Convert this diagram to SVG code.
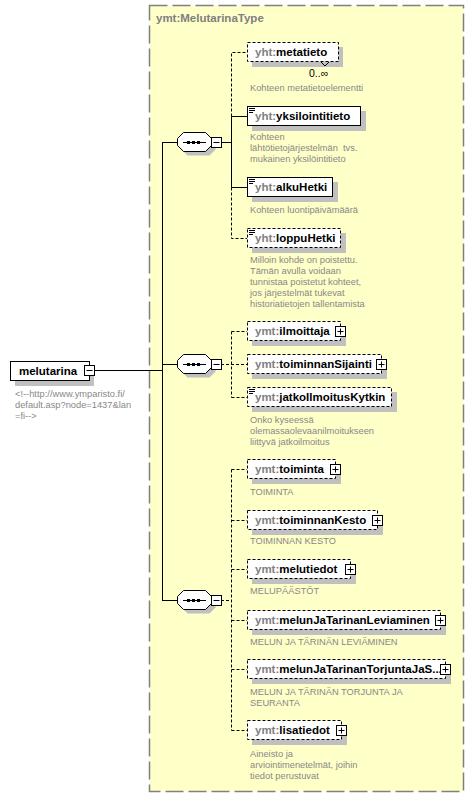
<svg xmlns="http://www.w3.org/2000/svg" width="474" height="797" viewBox="0 0 474 797">
<defs>
<style>
.bg{fill:#fff}
.type{fill:#ffffc8;stroke:#808080;stroke-width:1.5;stroke-dasharray:18 5}
.sh{fill:#c0c0c0}
.box{fill:#fff;stroke:#000;stroke-width:1}
.opt{stroke-dasharray:3 2}
.name{font-family:"Liberation Sans",Arial,sans-serif;font-weight:bold;font-size:11.5px;fill:#000}
.pfx{fill:#808080}
.title{font-family:"Liberation Sans",Arial,sans-serif;font-weight:bold;font-size:11.5px;fill:#808080}
.desc{font-family:"Liberation Sans",Arial,sans-serif;font-size:9.3px;fill:#888;white-space:pre}
.occ{font-family:"Liberation Sans",Arial,sans-serif;font-size:10.5px;fill:#000}
.ln{stroke:#000;stroke-width:1;fill:none}
.dl{stroke:#000;stroke-width:1;fill:none;stroke-dasharray:3 2}
.ic{stroke:#000;stroke-width:1;fill:none}
</style>
<g id="minus"><rect x="0.5" y="0.5" width="10" height="10" fill="#fff" stroke="#000"/><line x1="2.5" y1="5.5" x2="8.5" y2="5.5" stroke="#000"/></g>
<g id="plus"><rect x="0.5" y="0.5" width="10" height="10" fill="#fff" stroke="#000"/><line x1="2.5" y1="5.5" x2="8.5" y2="5.5" stroke="#000"/><line x1="5.5" y1="2.5" x2="5.5" y2="8.5" stroke="#000"/></g>
<g id="simple"><line x1="2" y1="2.5" x2="8" y2="2.5" stroke="#000"/><line x1="2" y1="4.5" x2="8" y2="4.5" stroke="#000"/><line x1="2" y1="6.5" x2="6" y2="6.5" stroke="#000"/></g>
<g id="seq">
<polygon points="10.5,4.5 4.5,10.5 4.5,17.5 10.5,23.5 32.5,23.5 38.5,17.5 38.5,10.5 32.5,4.5" class="sh"/>
<polygon points="6.5,0.5 0.5,6.5 0.5,13.5 6.5,19.5 28.5,19.5 34.5,13.5 34.5,6.5 28.5,0.5" class="box"/>
<line x1="6" y1="10.5" x2="29" y2="10.5" stroke="#000"/>
<rect x="10" y="9" width="3" height="3" fill="#000"/><rect x="15" y="9" width="3" height="3" fill="#000"/><rect x="20" y="9" width="3" height="3" fill="#000"/>
</g>
</defs>
<rect class="bg" x="0" y="0" width="474" height="797"/>
<g id="MelutarinaType">
<rect class="type" x="149.5" y="5.5" width="314" height="786"/>
<text class="title" x="156" y="22">ymt:MelutarinaType</text>
</g>
<g id="connectors">
<path class="ln" d="M95,370.5 H162.5 M162.5,142 V601 M162.5,142.5 H177 M162.5,364.5 H178 M162.5,600.5 H177"/>
<path class="ln" d="M222,142.5 H231.5 M231.5,116.5 V187.5 M231.5,116.5 H247 M231.5,187.5 H247"/>
<path class="dl" d="M231.5,116.5 V52.5 H247 M231.5,187.5 V238.5 H247"/>
<path class="dl" d="M221,364.5 H247 M231.5,331.5 V397.5 M231.5,331.5 H247 M231.5,397.5 H247"/>
<path class="dl" d="M221,600.5 H231.5 M231.5,469.5 V730.5 M231.5,469.5 H247 M231.5,520.5 H247 M231.5,569.5 H247 M231.5,620.5 H247 M231.5,669.5 H247 M231.5,730.5 H247"/>
</g>
<g id="melutarina">
<rect class="sh" x="15" y="366" width="79" height="20"/>
<rect class="box" x="10.5" y="361.5" width="79" height="19"/>
<text class="name" x="19" y="375">melutarina</text>
<use href="#minus" x="84" y="365"/>
<text class="desc" x="15" y="397">&lt;!--http://www.ymparisto.fi/</text>
<text class="desc" x="15" y="408">default.asp?node=1437&amp;lan</text>
<text class="desc" x="15" y="419">=fi--&gt;</text>
</g>
<g id="seq1">
<use href="#seq" x="177" y="132"/>
<use href="#minus" x="211" y="137"/>
</g>
<g id="seq2">
<use href="#seq" x="177" y="354"/>
<use href="#minus" x="211" y="359"/>
</g>
<g id="seq3">
<use href="#seq" x="177" y="590"/>
<use href="#minus" x="211" y="595"/>
</g>
<g id="metatieto">
<rect class="sh" x="252" y="47" width="91" height="20"/>
<rect class="box opt" x="247.5" y="42.5" width="91" height="19"/>
<polyline class="ic" points="321,62 325,66 329,62" fill="#fff"/>
<text class="name" x="255" y="56"><tspan class="pfx">yht:</tspan>metatieto</text>
<text class="occ" x="309" y="77">0..∞</text>
<text class="desc" x="250" y="91">Kohteen metatietoelementti</text>
</g>
<g id="yksilointitieto">
<rect class="sh" x="252" y="111" width="114" height="20"/>
<rect class="box" x="247.5" y="106.5" width="113" height="19"/>
<use href="#simple" x="247" y="106"/>
<text class="name" x="255" y="120"><tspan class="pfx">yht:</tspan>yksilointitieto</text>
<text class="desc" x="250" y="140">Kohteen</text>
<text class="desc" x="250" y="151">lähtötietojärjestelmän  tvs.</text>
<text class="desc" x="250" y="162">mukainen yksilöintitieto</text>
</g>
<g id="alkuHetki">
<rect class="sh" x="252" y="182" width="86" height="20"/>
<rect class="box" x="247.5" y="177.5" width="85" height="19"/>
<use href="#simple" x="247" y="177"/>
<text class="name" x="255" y="191"><tspan class="pfx">yht:</tspan>alkuHetki</text>
<text class="desc" x="250" y="213">Kohteen luontipäivämäärä</text>
</g>
<g id="loppuHetki">
<rect class="sh" x="252" y="233" width="94" height="20"/>
<rect class="box opt" x="247.5" y="228.5" width="93" height="19"/>
<use href="#simple" x="247" y="228"/>
<text class="name" x="255" y="242"><tspan class="pfx">yht:</tspan>loppuHetki</text>
<text class="desc" x="250" y="263">Milloin kohde on poistettu.</text>
<text class="desc" x="250" y="274">Tämän avulla voidaan</text>
<text class="desc" x="250" y="285">tunnistaa poistetut kohteet,</text>
<text class="desc" x="250" y="296">jos järjestelmät tukevat</text>
<text class="desc" x="250" y="307">historiatietojen tallentamista</text>
</g>
<g id="ilmoittaja">
<rect class="sh" x="252" y="326" width="94" height="20"/>
<rect class="box opt" x="247.5" y="321.5" width="93" height="19"/>
<text class="name" x="255" y="335"><tspan class="pfx">ymt:</tspan>ilmoittaja</text>
<use href="#plus" x="335" y="326"/>
</g>
<g id="toiminnanSijainti">
<rect class="sh" x="252" y="359" width="135" height="20"/>
<rect class="box opt" x="247.5" y="354.5" width="134" height="19"/>
<text class="name" x="255" y="368"><tspan class="pfx">ymt:</tspan>toiminnanSijainti</text>
<use href="#plus" x="376" y="359"/>
</g>
<g id="jatkoIlmoitusKytkin">
<rect class="sh" x="252" y="392" width="145" height="20"/>
<rect class="box opt" x="247.5" y="387.5" width="144" height="19"/>
<use href="#simple" x="247" y="387"/>
<text class="name" x="255" y="401"><tspan class="pfx">ymt:</tspan>jatkoIlmoitusKytkin</text>
<text class="desc" x="250" y="423">Onko kyseessä</text>
<text class="desc" x="250" y="434">olemassaolevaanilmoitukseen</text>
<text class="desc" x="250" y="445">liittyvä jatkoilmoitus</text>
</g>
<g id="toiminta">
<rect class="sh" x="252" y="464" width="89" height="20"/>
<rect class="box opt" x="247.5" y="459.5" width="88" height="19"/>
<text class="name" x="255" y="473"><tspan class="pfx">ymt:</tspan>toiminta</text>
<use href="#plus" x="330" y="464"/>
<text class="desc" x="250" y="495">TOIMINTA</text>
</g>
<g id="toiminnanKesto">
<rect class="sh" x="252" y="515" width="131" height="20"/>
<rect class="box opt" x="247.5" y="510.5" width="130" height="19"/>
<text class="name" x="255" y="524"><tspan class="pfx">ymt:</tspan>toiminnanKesto</text>
<use href="#plus" x="372" y="515"/>
<text class="desc" x="250" y="544">TOIMINNAN KESTO</text>
</g>
<g id="melutiedot">
<rect class="sh" x="252" y="564" width="104" height="20"/>
<rect class="box opt" x="247.5" y="559.5" width="103" height="19"/>
<text class="name" x="255" y="573"><tspan class="pfx">ymt:</tspan>melutiedot</text>
<use href="#plus" x="345" y="564"/>
<text class="desc" x="250" y="594">MELUPÄÄSTÖT</text>
</g>
<g id="melunJaTarinanLeviaminen">
<rect class="sh" x="252" y="615" width="194" height="20"/>
<rect class="box opt" x="247.5" y="610.5" width="193" height="19"/>
<text class="name" x="255" y="624"><tspan class="pfx">ymt:</tspan>melunJaTarinanLeviaminen</text>
<use href="#plus" x="435" y="615"/>
<text class="desc" x="250" y="645">MELUN JA TÄRINÄN LEVIÄMINEN</text>
</g>
<g id="melunJaTarinanTorjuntaJaSeuranta">
<rect class="sh" x="252" y="664" width="199" height="20"/>
<rect class="box opt" x="247.5" y="659.5" width="198" height="19"/>
<text class="name" x="255" y="673"><tspan class="pfx">ymt:</tspan>melunJaTarinanTorjuntaJaS...</text>
<use href="#plus" x="440" y="664"/>
<text class="desc" x="250" y="695">MELUN JA TÄRINÄN TORJUNTA JA</text>
<text class="desc" x="250" y="706">SEURANTA</text>
</g>
<g id="lisatiedot">
<rect class="sh" x="252" y="725" width="95" height="20"/>
<rect class="box opt" x="247.5" y="720.5" width="94" height="19"/>
<text class="name" x="255" y="734"><tspan class="pfx">ymt:</tspan>lisatiedot</text>
<use href="#plus" x="336" y="725"/>
<text class="desc" x="250" y="757">Aineisto ja</text>
<text class="desc" x="250" y="768">arviointimenetelmät, joihin</text>
<text class="desc" x="250" y="779">tiedot perustuvat</text>
</g>
</svg>
